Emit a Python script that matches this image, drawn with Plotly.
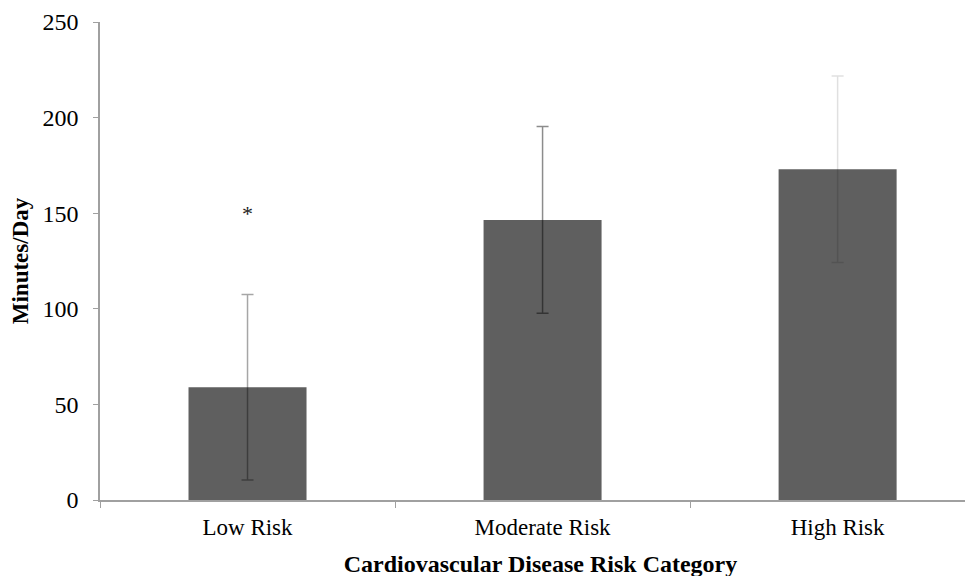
import plotly.graph_objects as go

categories = ["Low Risk", "Moderate Risk", "High Risk"]
means = [59, 146.5, 173]
errors = [48.5, 48.8, 48.8]
err_colors = ["rgba(0,0,0,0.35)", "rgba(0,0,0,0.45)", "rgba(0,0,0,0.12)"]
y_ticks = [0, 50, 100, 150, 200, 250]
star_label = "*"
star_value = 149

fig = go.Figure()
for cat, m, e, c in zip(categories, means, errors, err_colors):
    fig.add_trace(go.Bar(
        x=[cat], y=[m], width=0.4,
        marker=dict(color="#5f5f5f", line=dict(width=0)),
        error_y=dict(type="data", array=[e], visible=True, color=c, thickness=1.5, width=6),
        showlegend=False,
    ))

fig.add_trace(go.Scatter(
    x=[categories[0]], y=[star_value], mode="text", text=[star_label],
    textfont=dict(family="Liberation Serif", size=22, color="#222"),
    showlegend=False, hoverinfo="skip",
))

fig.update_layout(
    width=973, height=576,
    margin=dict(l=92, r=0, t=14, b=84),
    plot_bgcolor="white", paper_bgcolor="white",
    barmode="overlay",
    font=dict(family="Liberation Serif", size=23, color="black"),
    xaxis=dict(
        type="category", range=[-0.5, 2.486],
        showline=True, linecolor="#a0a0a0", linewidth=1.5,
        ticks="outside", tickson="boundaries", ticklen=6, tickcolor="#a0a0a0",
        showgrid=False, zeroline=False,
        tickfont=dict(family="Liberation Serif", size=23),
        ticklabelstandoff=6,
        title=dict(text="<b>Cardiovascular Disease Risk Category</b>",
                   font=dict(family="Liberation Serif", size=24), standoff=16),
    ),
    yaxis=dict(
        range=[0, 250], tickvals=y_ticks,
        showline=True, linecolor="#a0a0a0", linewidth=1.5,
        ticks="outside", ticklen=5, tickcolor="#a0a0a0",
        showgrid=False, zeroline=False,
        tickfont=dict(family="Liberation Serif", size=24),
        ticklabelstandoff=10,
        title=dict(text="<b>Minutes/Day</b>",
                   font=dict(family="Liberation Serif", size=23), standoff=10),
    ),
)

fig.write_html("out.html")
